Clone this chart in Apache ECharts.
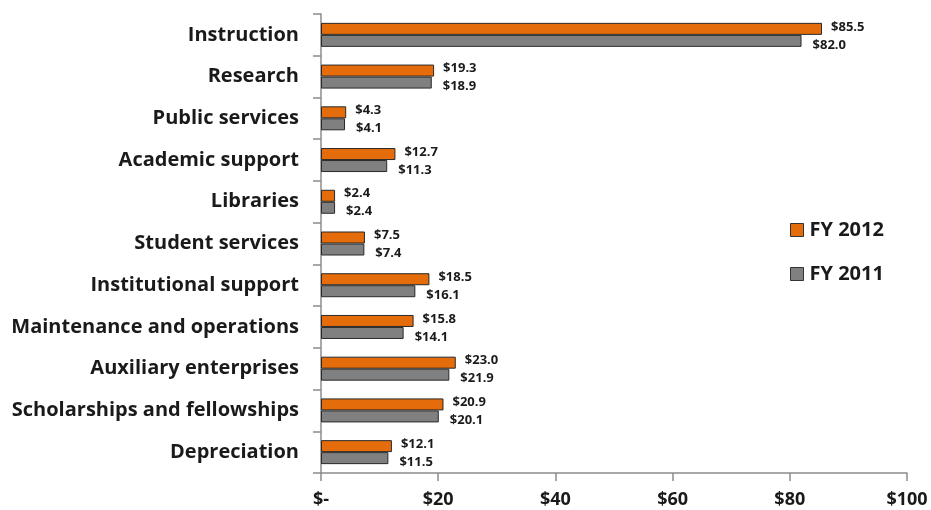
<!DOCTYPE html>
<html>
<head>
<meta charset="utf-8">
<script src="https://cdn.jsdelivr.net/npm/echarts@6/dist/echarts.min.js"></script>
<style>html,body{margin:0;padding:0;background:#fff;}#c{width:931px;height:510px;}</style>
</head>
<body>
<div id="c"></div>
<script>
var categories = ["Instruction","Research","Public services","Academic support","Libraries","Student services","Institutional support","Maintenance and operations","Auxiliary enterprises","Scholarships and fellowships","Depreciation"];
var fy2012 = [85.5,19.3,4.3,12.7,2.4,7.5,18.5,15.8,23.0,20.9,12.1];
var fy2011 = [82.0,18.9,4.1,11.3,2.4,7.4,16.1,14.1,21.9,20.1,11.5];
var xTicks = [0,20,40,60,80,100];
var xTickLabels = ["$-","$20","$40","$60","$80","$100"];

var FONT = "'Open Sans', sans-serif";
var chart = echarts.init(document.getElementById('c'));
function lbl(v){ return '$' + v.toFixed(1); }
chart.setOption({
  animation: false,
  grid: {left: 321, right: 24, top: 14, bottom: 37, containLabel: false},
  legend: {
    orient: 'vertical', left: 785, top: 215, itemGap: 24,
    itemWidth: 13, itemHeight: 13, icon: 'rect',
    data: ['FY 2012','FY 2011'],
    textStyle: {fontFamily: FONT, fontSize: 20, fontWeight: 'bold', color: '#1a1a1a', padding: [0,0,0,1]},
    itemStyle: {borderColor: '#333', borderWidth: 1}
  },
  xAxis: {
    type: 'value', min: xTicks[0], max: xTicks[xTicks.length-1], interval: 20,
    axisLine: {show: true, lineStyle: {color: '#8c8c8c', width: 1.5}},
    axisTick: {show: true, length: 8, lineStyle: {color: '#8c8c8c', width: 1.5}},
    splitLine: {show: false},
    axisLabel: {
      margin: 18, fontFamily: FONT, fontSize: 18, fontWeight: 'bold', color: '#1a1a1a',
      formatter: function(v){ var i = xTicks.indexOf(v); return i >= 0 ? xTickLabels[i] : ''; }
    }
  },
  yAxis: {
    type: 'category', data: categories, inverse: true,
    axisLine: {show: true, lineStyle: {color: '#8c8c8c', width: 1.5}},
    axisTick: {show: true, length: 8, lineStyle: {color: '#8c8c8c', width: 1.5}},
    axisLabel: {margin: 22, fontFamily: FONT, fontSize: 20, fontWeight: 'bold', color: '#1a1a1a'}
  },
  series: [
    {
      name: 'FY 2012', type: 'bar', data: fy2012, barWidth: 12, barGap: '0%',
      itemStyle: {color: '#E46C0A', borderColor: '#2a2a2a', borderWidth: 1},
      label: {show: true, position: 'right', distance: 9, offset: [0,-2],
        fontFamily: FONT, fontSize: 13, fontWeight: 'bold', color: '#1a1a1a',
        formatter: function(p){ return lbl(p.value); }}
    },
    {
      name: 'FY 2011', type: 'bar', data: fy2011, barWidth: 12,
      itemStyle: {color: '#808080', borderColor: '#2a2a2a', borderWidth: 1},
      label: {show: true, position: 'right', distance: 11, offset: [0,4],
        fontFamily: FONT, fontSize: 13, fontWeight: 'bold', color: '#1a1a1a',
        formatter: function(p){ return lbl(p.value); }}
    }
  ]
});
</script>
</body>
</html>
